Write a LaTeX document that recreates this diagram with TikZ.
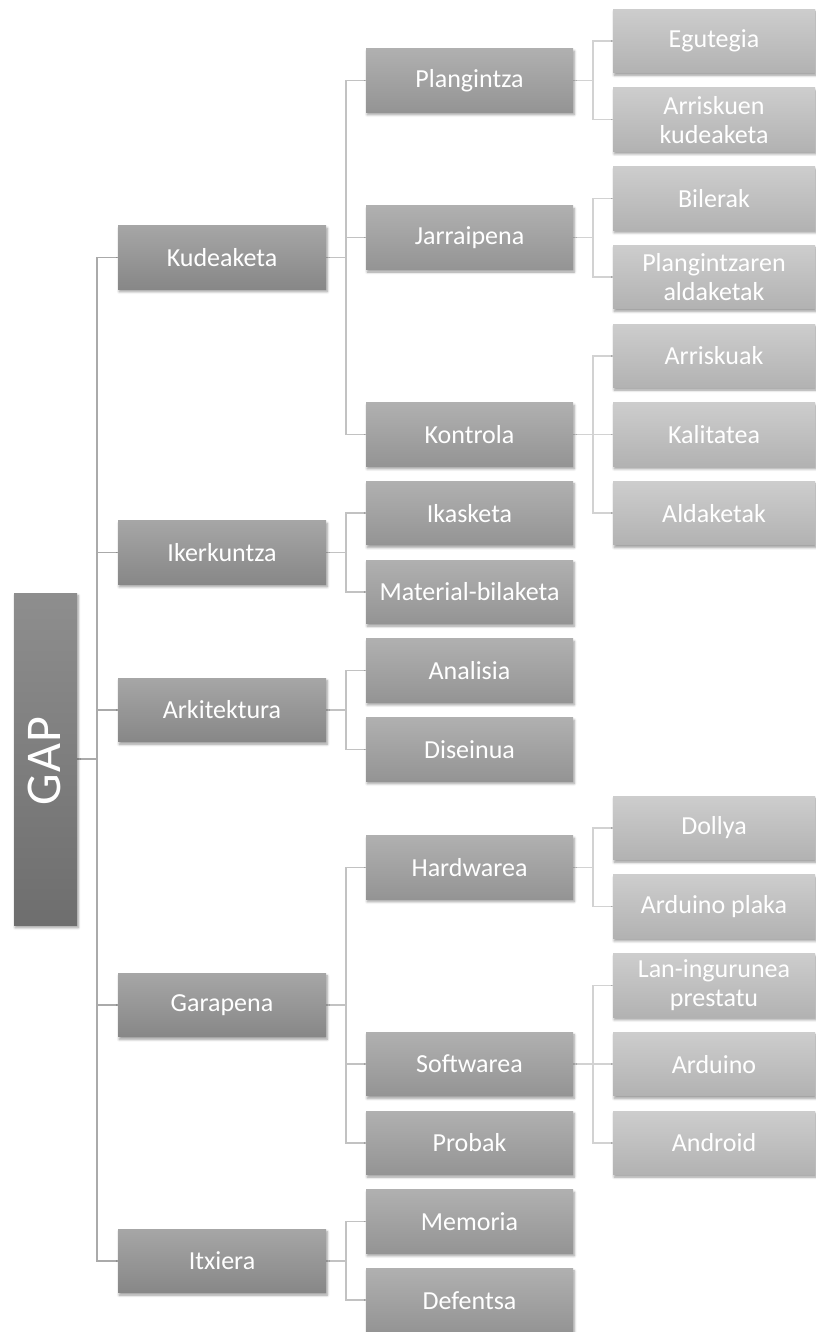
\documentclass[tikz,border=0pt]{standalone}
\usepackage{fontspec}
\setmainfont{Carlito}
\usetikzlibrary{shadows.blur,backgrounds}

\definecolor{gapTop}{HTML}{8E8E8E}
\definecolor{gapBot}{HTML}{6E6E6E}
\definecolor{oneTop}{HTML}{A6A6A6}
\definecolor{oneBot}{HTML}{878787}
\definecolor{twoTop}{HTML}{B0B0B0}
\definecolor{twoBot}{HTML}{949494}
\definecolor{threeTop}{HTML}{CDCDCD}
\definecolor{threeBot}{HTML}{B2B2B2}
\definecolor{linkOne}{HTML}{AAAAAA}
\definecolor{linkTwo}{HTML}{C2C2C2}
\definecolor{linkThree}{HTML}{D2D2D2}

\tikzset{
  box/.style={rectangle, inner sep=2pt, text=white, align=center,
    font=\fontsize{26}{29}\selectfont,
    blur shadow={shadow xshift=1.2pt, shadow yshift=-2.5pt,
      shadow blur radius=2.5pt, shadow blur steps=6, shadow opacity=40}},
  rootbox/.style={box, minimum width=63pt, minimum height=332pt,
    top color=gapTop, bottom color=gapBot},
  lvlone/.style={box, minimum width=208pt, minimum height=63.5pt,
    top color=oneTop, bottom color=oneBot},
  lvltwo/.style={box, minimum width=207pt, minimum height=63.5pt,
    top color=twoTop, bottom color=twoBot},
  lvlthree/.style={box, minimum width=202pt, minimum height=63.5pt,
    top color=threeTop, bottom color=threeBot},
  linkA/.style={draw=linkOne, line width=1.5pt},
  linkB/.style={draw=linkTwo, line width=1.5pt},
  linkC/.style={draw=linkThree, line width=1.5pt},
}

\begin{document}
\begin{tikzpicture}[x=1pt, y=-1pt]
\useasboundingbox (0,0) rectangle (815,1332);

% root
\node[rootbox] (gap) at (45.5,759.1) {};
\node[rotate=90, text=white, inner sep=0pt,
      font=\fontsize{50}{56}\selectfont\addfontfeature{LetterSpace=3}]
  (gaplabel) at ([xshift=-1pt,yshift=-2pt]gap.center) {GAP};

% first level
\node[lvlone] (kud) at (222,257.4)  {Kudeaketa};
\node[lvlone] (ike) at (222,552.55) {Ikerkuntza};
\node[lvlone] (ark) at (222,709.95) {Arkitektura};
\node[lvlone] (gar) at (222,1005.1) {Garapena};
\node[lvlone] (itx) at (222,1260.85) {Itxiera};

% second level
\node[lvltwo] (pla) at (469.5,80.35)  {Plangintza};
\node[lvltwo] (jar) at (469.5,237.75) {Jarraipena};
\node[lvltwo] (kon) at (469.5,434.5)  {Kontrola};
\node[lvltwo] (ika) at (469.5,513.2)  {Ikasketa};
\node[lvltwo] (mat) at (469.5,591.9)  {Material-bilaketa};
\node[lvltwo] (ana) at (469.5,670.6)  {Analisia};
\node[lvltwo] (dis) at (469.5,749.3)  {Diseinua};
\node[lvltwo] (har) at (469.5,867.35) {Hardwarea};
\node[lvltwo] (sof) at (469.5,1064.1) {Softwarea};
\node[lvltwo] (pro) at (469.5,1142.8) {Probak};
\node[lvltwo] (mem) at (469.5,1221.5) {Memoria};
\node[lvltwo] (def) at (469.5,1300.2) {Defentsa};

% third level
\node[lvlthree] (egu) at (714,41)     {Egutegia};
\node[lvlthree] (arr) at (714,119.7)  {Arriskuen\\kudeaketa};
\node[lvlthree] (bil) at (714,198.4)  {Bilerak};
\node[lvlthree] (pal) at (714,277.1)  {Plangintzaren\\aldaketak};
\node[lvlthree] (ris) at (714,355.8)  {Arriskuak};
\node[lvlthree] (kal) at (714,434.5)  {Kalitatea};
\node[lvlthree] (ald) at (714,513.2)  {Aldaketak};
\node[lvlthree] (dol) at (714,828)    {Dollya};
\node[lvlthree] (apl) at (714,906.7)  {Arduino plaka};
\node[lvlthree] (lan) at (714,985.4)  {Lan-ingurunea\\prestatu};
\node[lvlthree] (ard) at (714,1064.1) {Arduino};
\node[lvlthree] (and) at (714,1142.8) {Android};

% elbow connectors behind the boxes
\begin{pgfonlayer}{background}
  \foreach \c in {kud,ike,ark,gar,itx}
    \draw[linkA] (gap.east) -- ([xshift=20pt]gap.east) |- (\c.west);
  \foreach \p/\c in {kud/pla,kud/jar,kud/kon,ike/ika,ike/mat,ark/ana,ark/dis,
                     gar/har,gar/sof,gar/pro,itx/mem,itx/def}
    \draw[linkB] (\p.east) -- ([xshift=20pt]\p.east) |- (\c.west);
  \foreach \p/\c in {pla/egu,pla/arr,jar/bil,jar/pal,kon/ris,kon/kal,kon/ald,
                     har/dol,har/apl,sof/lan,sof/ard,sof/and}
    \draw[linkC] (\p.east) -- ([xshift=20pt]\p.east) |- (\c.west);
\end{pgfonlayer}
\end{tikzpicture}
\end{document}
